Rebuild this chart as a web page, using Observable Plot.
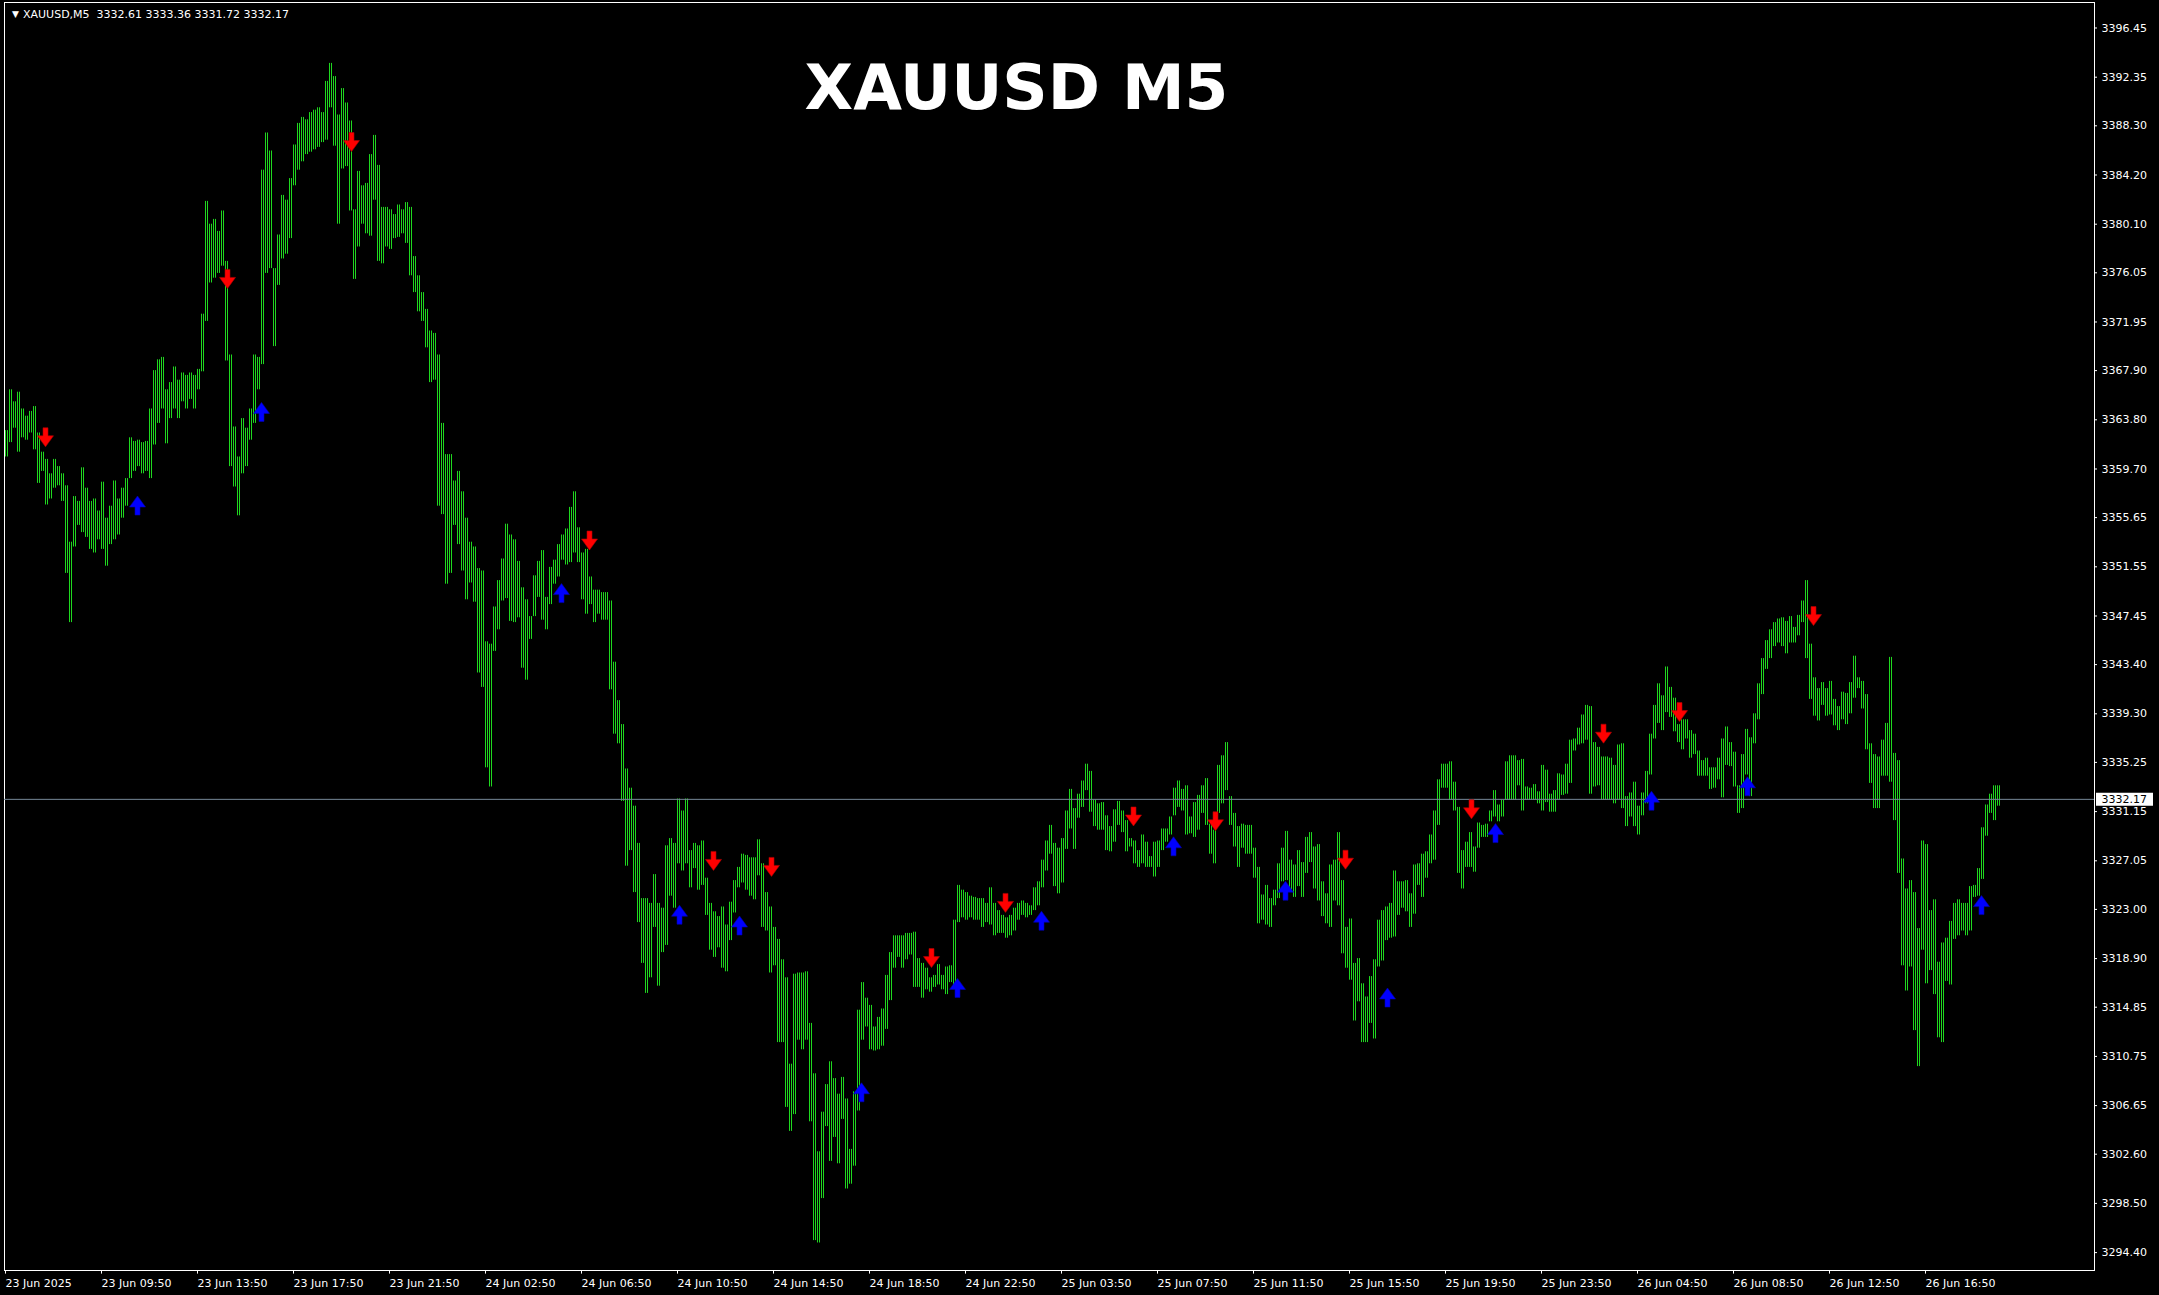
<!DOCTYPE html>
<html><head><meta charset="utf-8">
<script src="https://cdn.jsdelivr.net/npm/d3@7"></script>
<script src="https://cdn.jsdelivr.net/npm/@observablehq/plot@0.6"></script>
<style>html,body{margin:0;padding:0;background:#000;overflow:hidden} svg{display:block}</style>
</head><body><div id="chart"></div>
<script>
// XAUUSD M5 — high/low of consecutive pairs of M5 bars
const groupHigh = [
3362.9,3366.3,3365.3,3366.1,3364.7,3364.1,3364.5,3364.9,3362.7,3361.1,
3360.5,3359.3,3360.5,3359.9,3359.3,3358.3,3353.6,3357.4,3357.0,3359.8,
3358.1,3357.0,3357.2,3356.2,3358.6,3355.6,3356.6,3358.7,3357.2,3358.1,
3358.9,3362.3,3362.0,3362.1,3361.9,3362.0,3364.7,3367.9,3368.8,3369.0,
3366.3,3366.9,3368.2,3367.1,3367.7,3367.5,3367.7,3367.5,3368.0,3372.6,
3382.0,3380.1,3380.5,3379.5,3381.2,3377.0,3369.2,3363.2,3360.7,3363.9,
3363.1,3364.7,3369.2,3369.0,3384.6,3387.7,3386.2,3376.4,3379.2,3382.5,
3382.1,3383.9,3386.7,3388.5,3389.0,3388.8,3389.4,3389.6,3389.8,3389.4,
3392.0,3393.5,3392.4,3389.2,3391.4,3390.2,3388.7,3381.3,3384.5,3383.3,
3383.5,3385.9,3387.5,3385.0,3381.5,3381.5,3381.3,3380.9,3381.7,3381.3,
3381.9,3381.5,3377.4,3375.8,3374.4,3373.0,3371.2,3371.0,3369.2,3363.5,
3360.9,3360.9,3358.7,3359.5,3357.8,3355.6,3353.6,3353.2,3351.4,3351.2,
3345.3,3345.1,3348.2,3350.4,3352.2,3355.1,3354.2,3353.8,3352.0,3349.8,
3348.8,3347.4,3350.8,3352.0,
3352.9,3349.0,3351.5,3352.1,3353.4,3354.2,3354.7,3356.5,3357.8,3354.8,
3352.7,3353.0,3350.7,3349.6,3349.6,3349.4,3349.4,3348.7,3343.6,3340.4,
3338.4,3334.7,3333.1,3331.6,3328.5,3323.9,3323.9,3323.5,3325.9,3323.5,
3323.1,3328.3,3328.9,3328.5,3332.2,3331.2,3332.2,3327.9,3328.5,3328.3,
3328.7,3325.6,3323.5,3322.8,3322.4,3323.2,3321.7,3323.6,3325.4,3326.5,
3327.6,3327.5,3327.3,3327.3,3328.8,3326.8,3324.4,3323.2,3321.5,3320.5,
3318.8,3317.3,3310.1,3317.6,3317.7,3317.7,3317.8,3313.5,3309.3,3302.8,
3306.1,3308.4,3310.3,3308.9,3307.6,3309.0,3307.2,3303.0,3307.8,3314.6,
3316.9,3315.6,3315.0,3313.2,3314.0,3314.7,3317.5,3319.4,3320.8,3320.8,
3320.8,3321.0,3321.0,3321.1,3318.9,3318.5,3318.1,3317.3,3317.5,3318.4,
3317.5,3318.2,3318.3,3322.1,3325.0,3324.6,3324.4,3324.1,3324.0,3323.9,
3323.9,3323.5,3324.8,3323.5,3322.9,3322.5,3322.3,3322.5,3323.1,3323.5,
3323.7,3323.5,3323.3,3324.8,3325.3,3327.1,3328.7,3330.0,3328.5,3328.1,
3328.9,3331.2,3333.0,3331.4,3332.6,
3333.7,3335.1,3334.5,3332.1,3331.8,3331.9,3330.8,3329.9,3331.3,3332.0,
3331.2,3330.4,3328.9,3328.7,3327.9,3329.2,3328.6,3327.4,3328.6,3328.7,
3329.7,3329.7,3330.7,3333.1,3333.7,3333.0,3333.3,3330.7,3331.9,3332.5,
3333.3,3333.9,3330.1,3329.6,3335.0,3335.8,3336.9,3332.4,3331.0,3329.9,
3330.1,3330.0,3330.0,3328.1,3326.5,3324.2,3325.0,3323.9,3324.6,3326.8,
3328.1,3329.5,3327.1,3326.7,3327.9,3326.9,3329.0,3329.4,3328.2,3328.4,
3325.3,3324.3,3326.7,3327.1,3329.4,3325.4,3321.5,3322.2,3318.5,3318.9,
3316.8,3315.7,3317.4,3318.8,3322.1,3322.9,3323.2,3323.5,3326.2,3325.3,
3325.3,3325.4,3324.3,3326.7,3326.8,3327.6,3327.8,3329.2,3331.2,3333.8,
3335.1,3335.1,3335.3,3333.6,3331.5,3327.9,3328.6,3329.4,3328.2,3330.2,
3330.0,3330.1,3331.2,3332.9,3331.7,3332.1,3335.3,3335.8,3335.8,3335.4,
3335.5,3333.2,3333.1,3333.4,3332.8,3335.0,3334.6,3332.6,3332.9,3334.3,
3334.2,3335.1,3337.1,3337.2,3338.1,3339.2,3340.0,3339.9,3336.9,3336.5,
3335.7,3335.7,3335.6,3335.0,3336.7,
3336.8,3332.4,3332.7,3333.6,3331.6,3332.7,3334.5,3337.6,3340.0,3341.8,
3340.8,3343.2,3341.5,3340.6,3338.4,3338.8,3338.8,3337.9,3337.6,3336.2,
3335.4,3335.6,3334.8,3334.8,3335.6,3337.2,3338.2,3336.9,3336.1,3333.3,
3335.9,3338.0,3337.3,3339.3,3341.8,3343.9,3345.4,3346.3,3346.9,3347.2,
3347.3,3347.0,3347.4,3346.5,3347.5,3348.7,3350.4,3345.1,3342.3,3341.4,
3341.9,3341.4,3342.0,3340.5,3339.9,3341.1,3341.0,3341.9,3344.1,3342.3,
3342.0,3340.9,3336.8,3335.9,3335.7,3337.1,3338.5,3344.0,3336.0,3335.4,
3327.2,3324.7,3325.4,3324.4,3321.4,3328.7,3328.4,3322.9,3323.8,3318.6,
3320.2,3320.6,3322.0,3323.5,3323.8,3323.5,3323.5,3324.9,3325.0,3326.4,
3329.8,3331.7,3332.6,3333.3,3333.3
];
const groupLow = [
3360.7,3361.9,3363.1,3361.1,3362.3,3362.1,3362.7,3361.3,3358.5,3359.5,
3356.7,3357.2,3358.1,3358.3,3357.0,3351.0,3346.9,3353.2,3355.0,3354.4,
3354.0,3353.0,3352.7,3353.8,3353.0,3351.6,3353.4,3353.8,3354.2,3355.6,
3356.6,3358.9,3359.5,3359.9,3359.3,3359.5,3358.9,3361.7,3363.5,3364.7,
3361.8,3363.9,3364.7,3363.9,3365.3,3364.7,3365.5,3364.7,3366.3,3367.8,
3372.0,3375.2,3375.6,3376.0,3376.6,3368.7,3359.9,3358.2,3355.8,3359.3,
3359.9,3362.1,3363.5,3366.3,3368.4,3376.0,3376.4,3369.9,3375.0,3377.2,
3377.6,3378.9,3383.3,3384.6,3385.3,3385.9,3386.1,3386.3,3386.5,3386.9,
3387.1,3389.8,3386.6,3380.1,3384.7,3384.9,3381.2,3375.5,3378.2,3380.1,
3379.3,3379.1,3382.1,3377.0,3376.8,3378.2,3378.0,3378.9,3379.0,3379.3,
3378.5,3375.8,3374.4,3372.8,3372.0,3369.8,3366.9,3367.1,3356.6,3355.9,
3350.1,3351.0,3355.0,3353.4,3351.2,3348.8,3350.2,3348.6,3342.7,3341.5,
3334.8,3333.2,3344.5,3346.3,3348.7,3348.9,3347.0,3346.9,3347.3,3343.1,
3342.1,3345.5,3347.4,3349.0,
3347.1,3346.3,3348.4,3350.1,3350.7,3352.1,3351.7,3351.9,3352.7,3351.9,
3348.8,3347.6,3348.4,3346.9,3347.6,3347.1,3347.1,3341.3,3337.6,3336.8,
3332.0,3326.6,3327.9,3324.4,3321.9,3318.5,3316.0,3317.3,3321.5,3316.6,
3319.4,3320.0,3324.1,3323.1,3326.8,3326.2,3326.8,3324.8,3326.4,3324.6,
3325.0,3322.5,3319.6,3319.0,3319.8,3318.1,3317.8,3320.4,3322.7,3324.8,
3325.2,3324.6,3324.1,3323.8,3325.8,3321.5,3321.2,3317.7,3318.3,3311.9,
3311.9,3306.5,3304.5,3305.9,3312.1,3311.3,3312.1,3305.3,3295.4,3295.2,
3298.9,3304.9,3302.0,3304.0,3301.8,3305.5,3299.7,3300.1,3301.6,3306.2,
3312.1,3313.2,3311.3,3311.2,3311.3,3311.6,3313.0,3315.4,3318.1,3319.0,
3318.1,3318.8,3319.2,3316.5,3316.5,3315.6,3316.3,3316.1,3316.5,3316.7,
3316.3,3315.9,3316.9,3316.5,3321.9,3322.3,3322.1,3322.3,3322.1,3322.1,
3321.5,3321.9,3321.7,3320.8,3321.0,3321.0,3320.6,3320.8,3321.2,3322.1,
3322.5,3322.3,3322.5,3322.9,3323.3,3324.8,3326.2,3327.6,3324.9,3324.3,
3325.2,3328.0,3329.7,3328.0,3330.6,
3331.5,3332.9,3331.1,3329.9,3329.6,3329.6,3327.9,3327.8,3328.6,3330.0,
3329.4,3327.8,3328.2,3326.8,3326.5,3326.8,3326.5,3326.5,3325.7,3326.5,
3327.9,3328.6,3329.2,3330.8,3331.5,3331.2,3329.2,3329.3,3329.0,3329.6,
3331.0,3330.0,3327.6,3326.8,3331.0,3331.8,3332.9,3330.0,3328.2,3326.5,
3328.1,3327.6,3327.6,3325.6,3321.8,3322.1,3321.7,3321.5,3323.3,3323.9,
3325.3,3325.4,3324.6,3324.0,3324.9,3324.0,3326.0,3326.9,3324.7,3323.7,
3322.4,3321.8,3321.5,3323.7,3323.3,3319.3,3318.1,3317.1,3313.7,3315.3,
3311.9,3311.9,3313.5,3312.2,3318.2,3318.7,3320.4,3320.6,3320.7,3322.5,
3323.1,3322.8,3321.5,3322.6,3325.0,3324.0,3325.6,3326.8,3327.1,3330.0,
3333.1,3333.1,3332.1,3331.2,3326.0,3324.7,3326.5,3326.5,3326.1,3328.1,
3329.0,3329.0,3330.3,3330.7,3330.3,3330.7,3332.1,3332.1,3332.1,3333.3,
3331.2,3332.1,3332.1,3332.1,3331.8,3331.2,3331.9,3331.1,3331.1,3332.1,
3332.5,3332.6,3333.5,3336.2,3336.7,3336.8,3337.1,3332.6,3333.2,3333.3,
3332.1,3332.1,3332.1,3331.8,3332.1,
3331.4,3329.9,3330.7,3329.9,3329.2,3330.8,3331.8,3334.2,3337.2,3338.5,
3337.9,3339.4,3339.0,3337.8,3336.9,3336.3,3337.2,3335.6,3335.9,3334.1,
3334.1,3334.1,3333.0,3333.1,3333.8,3332.3,3335.0,3334.9,3333.2,3331.0,
3331.4,3334.2,3332.4,3336.8,3338.8,3340.9,3343.0,3343.9,3344.9,3345.2,
3344.9,3344.3,3345.2,3345.2,3345.8,3346.9,3343.9,3340.5,3339.1,3338.7,
3340.0,3339.1,3339.2,3338.3,3337.9,3338.8,3338.4,3339.3,3340.6,3341.4,
3339.7,3336.3,3333.5,3331.4,3331.4,3334.1,3334.1,3333.6,3330.4,3326.0,
3318.3,3316.2,3318.2,3312.9,3309.9,3319.6,3316.8,3317.9,3315.9,3312.3,
3311.9,3317.0,3316.7,3320.5,3320.8,3321.2,3320.8,3321.2,3324.0,3324.1,
3325.5,3329.1,3331.0,3330.4,3331.6
];
// signal arrows: bar index and price
const sellBars   = [20, 111, 173, 292, 354, 383, 463, 500, 564, 605, 670, 733, 799, 837, 904];
const sellPrices = [3362.3, 3375.5, 3386.9, 3353.7, 3327.0, 3326.5, 3318.9, 3323.5, 3330.7, 3330.3, 3327.1, 3331.3, 3337.6, 3339.4, 3347.4];
const buyBars    = [66, 128, 278, 337, 367, 428, 476, 518, 584, 640, 691, 745, 823, 871, 988];
const buyPrices  = [3356.7, 3364.5, 3349.4, 3322.6, 3321.7, 3307.8, 3316.5, 3322.1, 3328.3, 3324.6, 3315.7, 3329.4, 3332.1, 3333.3, 3323.4];
const priceTicks = [3396.45, 3392.35, 3388.30, 3384.20, 3380.10, 3376.05, 3371.95, 3367.90, 3363.80, 3359.70, 3355.65, 3351.55, 3347.45, 3343.40, 3339.30, 3335.25, 3331.15, 3327.05, 3323.00, 3318.90, 3314.85, 3310.75, 3306.65, 3302.60, 3298.50, 3294.40];
const timeLabels = ["23 Jun 2025", "23 Jun 09:50", "23 Jun 13:50", "23 Jun 17:50", "23 Jun 21:50", "24 Jun 02:50", "24 Jun 06:50", "24 Jun 10:50", "24 Jun 14:50", "24 Jun 18:50", "24 Jun 22:50", "25 Jun 03:50", "25 Jun 07:50", "25 Jun 11:50", "25 Jun 15:50", "25 Jun 19:50", "25 Jun 23:50", "26 Jun 04:50", "26 Jun 08:50", "26 Jun 12:50", "26 Jun 16:50"];
const barsPerLabel = 48;
const bidPrice = 3332.17;
const infoText = "XAUUSD,M5 \u00a03332.61 3333.36 3331.72 3332.17";
const titleText = "XAUUSD M5";

// ---- build ----
const groups = groupHigh.map((h, k) => ({bar: 2 * k, hi: h, lo: groupLow[k]}));
const sells = sellBars.map((b, i) => ({bar: b, price: sellPrices[i]}));
const buys = buyBars.map((b, i) => ({bar: b, price: buyPrices[i]}));
const timeTicks = timeLabels.map((label, m) => ({bar: m * barsPerLabel, label}));

const X_MIN = -0.5, X_MAX = 1044.5;
const Y_MIN = 3292.908, Y_MAX = 3398.575;
const GREEN = "#1fd81f";

const arrowDown = {draw(c) {
  c.moveTo(-2.5, -10); c.lineTo(2.5, -10); c.lineTo(2.5, -2); c.lineTo(8, -2);
  c.lineTo(0, 9); c.lineTo(-8, -2); c.lineTo(-2.5, -2); c.closePath();
}};
const arrowUp = {draw(c) {
  c.moveTo(-2.5, 10); c.lineTo(2.5, 10); c.lineTo(2.5, 2); c.lineTo(8, 2);
  c.lineTo(0, -9); c.lineTo(-8, 2); c.lineTo(-2.5, 2); c.closePath();
}};
const boxSymbol = {draw(c) { c.rect(1.5, -6.5, 57, 13); }};

const chart = Plot.plot({
  width: 2159, height: 1295,
  marginLeft: 4, marginRight: 65, marginTop: 2, marginBottom: 25,
  style: {background: "#000", color: "#fff", fontFamily: "DejaVu Sans", fontSize: "11px", overflow: "visible"},
  x: {domain: [X_MIN, X_MAX], axis: null},
  y: {domain: [Y_MIN, Y_MAX], axis: null},
  marks: [
    Plot.frame({stroke: "#fff"}),
    // bars (two M5 bars per reading)
    Plot.ruleX(groups, {x: "bar", y1: "lo", y2: "hi", stroke: GREEN, strokeWidth: 1}),
    Plot.ruleX(groups, {x: "bar", y1: "lo", y2: "hi", stroke: GREEN, strokeWidth: 1, dx: 2}),
    // bid line
    Plot.ruleY([bidPrice], {y: d => d, stroke: "#778899"}),
    // arrows
    Plot.dot(sells, {x: "bar", y: "price", symbol: arrowDown, fill: "#ff0000", stroke: "#b00000", strokeWidth: 0.6}),
    Plot.dot(buys, {x: "bar", y: "price", symbol: arrowUp, fill: "#0000ff", stroke: "#0000b0", strokeWidth: 0.6}),
    // price axis
    Plot.ruleY(priceTicks, {y: d => d, x1: X_MAX, x2: X_MAX + 1.5, stroke: "#fff"}),
    Plot.text(priceTicks, {x: () => X_MAX, y: d => d, dx: 7, text: d => d.toFixed(2), textAnchor: "start", fill: "#fff", fontSize: 11}),
    // bid label
    Plot.dot([bidPrice], {x: () => X_MAX, y: d => d, symbol: boxSymbol, fill: "#fff", stroke: "none"}),
    Plot.text([bidPrice], {x: () => X_MAX, y: d => d, dx: 7, text: d => d.toFixed(2), textAnchor: "start", fill: "#000", fontSize: 11}),
    // time axis
    Plot.ruleX(timeTicks, {x: "bar", y1: Y_MIN, y2: Y_MIN - 0.3, stroke: "#fff"}),
    Plot.text(timeTicks, {x: "bar", y: () => Y_MIN, dy: 13, text: "label", textAnchor: "start", fill: "#fff", fontSize: 11}),
    // header texts
    Plot.text([infoText], {frameAnchor: "top-left", dx: 18.5, dy: 8, textAnchor: "start", fill: "#fff", fontSize: 11}),
    Plot.text(["\u25bc"], {frameAnchor: "top-left", dx: 7.5, dy: 8, fill: "#fff", fontSize: 9}),
    Plot.text([titleText], {frameAnchor: "top", dx: -33, dy: 62, fill: "#fff", fontSize: 63, fontWeight: "bold"})
  ]
});
document.getElementById("chart").appendChild(chart);
</script>
</body></html>
